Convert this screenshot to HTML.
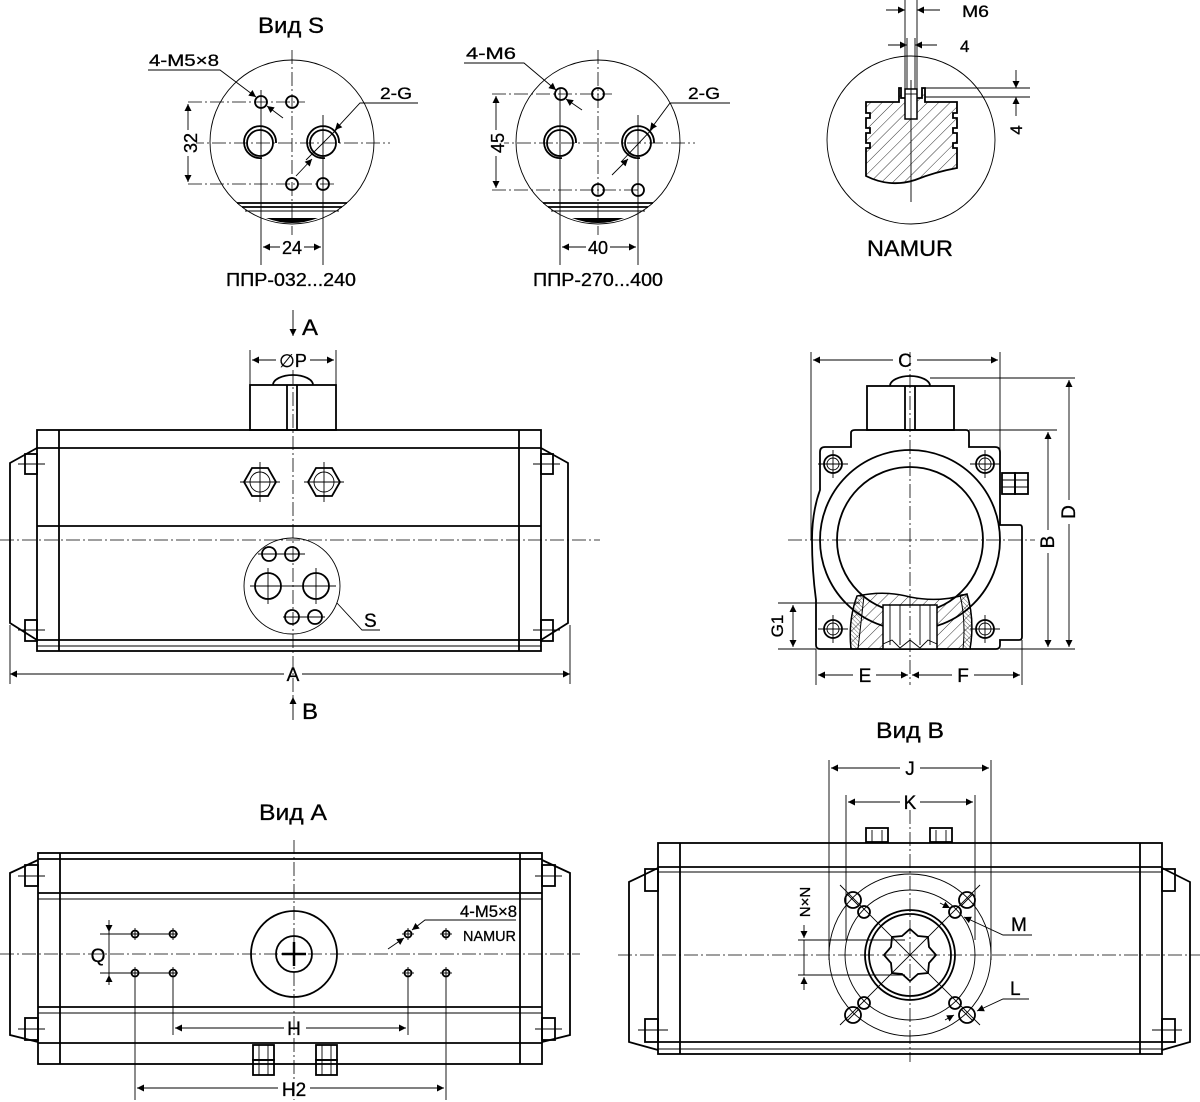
<!DOCTYPE html>
<html><head><meta charset="utf-8"><style>
html,body{margin:0;padding:0;background:#fff}
svg{display:block}
text{font-family:"Liberation Sans",sans-serif;fill:#000;stroke:#000;stroke-width:0.3}
.t{stroke:#000;stroke-width:1.8;fill:none}
.n{stroke:#000;stroke-width:0.9;fill:none}
.c{stroke:#000;stroke-width:0.8;fill:none;stroke-dasharray:14 3 2 3}
</style></head><body>
<svg width="1200" height="1102" viewBox="0 0 1200 1102" xmlns="http://www.w3.org/2000/svg">
<defs>
<marker id="a" viewBox="0 0 10 10" refX="10" refY="5" markerWidth="9" markerHeight="7" orient="auto-start-reverse" markerUnits="userSpaceOnUse"><path d="M0,0 L10,5 L0,10 z" fill="#000"/></marker>
<pattern id="hatch" width="8" height="8" patternUnits="userSpaceOnUse" patternTransform="rotate(45)"><line x1="0" y1="0" x2="0" y2="8" stroke="#000" stroke-width="0.8"/></pattern>
<pattern id="hatch2" width="3" height="3" patternUnits="userSpaceOnUse" patternTransform="rotate(-45)"><line x1="0" y1="0" x2="0" y2="3" stroke="#000" stroke-width="0.6"/></pattern>
</defs>

<!-- ===== Вид S circle 1 ===== -->
<text x="291" y="33" font-size="22" text-anchor="middle" textLength="66" lengthAdjust="spacingAndGlyphs">Вид S</text>
<circle cx="292" cy="142" r="82" class="n"/>
<line x1="292" y1="50" x2="292" y2="235" class="c"/>
<line x1="190" y1="143" x2="390" y2="143" class="c"/>
<line x1="188" y1="102" x2="305" y2="102" class="c"/>
<line x1="188" y1="184" x2="335" y2="184" class="c"/>
<line x1="261" y1="90" x2="261" y2="265" class="n"/>
<line x1="323" y1="115" x2="323" y2="265" class="n"/>
<circle cx="261" cy="102" r="6" class="t"/><circle cx="292" cy="102" r="6" class="t"/>
<circle cx="292" cy="184" r="6" class="t"/><circle cx="323" cy="184" r="6" class="t"/>
<circle cx="260" cy="143" r="13" class="t"/><path d="M276,143 A16,16 0 1 0 262,158" class="t"/>
<circle cx="323" cy="143" r="13" class="t"/><path d="M339,143 A16,16 0 1 0 325,158" class="t"/>
<line x1="306" y1="160" x2="340" y2="126" class="n"/>
<line x1="237" y1="203" x2="347" y2="203" class="t"/>
<line x1="242" y1="207" x2="342" y2="207" class="t"/>
<line x1="245" y1="211" x2="339" y2="211" class="n"/>
<path d="M266,218 Q292,228 318,218 Z" fill="#000"/>
<line x1="188" y1="104" x2="188" y2="182" class="n" marker-start="url(#a)" marker-end="url(#a)"/>
<rect x="182" y="130" width="14" height="26" fill="#fff"/>
<text x="0" y="0" font-size="18" text-anchor="middle" transform="translate(197,143) rotate(-90)">32</text>
<line x1="263" y1="247" x2="321" y2="247" class="n" marker-start="url(#a)" marker-end="url(#a)"/>
<rect x="280" y="238" width="24" height="18" fill="#fff"/>
<text x="292" y="254" font-size="18" text-anchor="middle">24</text>
<text x="291" y="286" font-size="18" text-anchor="middle" textLength="130" lengthAdjust="spacingAndGlyphs">ППР-032...240</text>
<polyline points="148,70 220,70 256,97" class="n" marker-end="url(#a)"/>
<text x="149" y="66" font-size="17" textLength="70" lengthAdjust="spacingAndGlyphs">4-M5×8</text>
<line x1="283" y1="118" x2="267" y2="106" class="n" marker-end="url(#a)"/>
<polyline points="418,103 360,103 335,130" class="n" marker-end="url(#a)"/>
<text x="380" y="99" font-size="17" textLength="32" lengthAdjust="spacingAndGlyphs">2-G</text>
<line x1="296" y1="176" x2="312" y2="159" class="n" marker-end="url(#a)"/>

<!-- ===== Вид S circle 2 ===== -->
<circle cx="598" cy="142" r="82" class="n"/>
<line x1="598" y1="50" x2="598" y2="235" class="c"/>
<line x1="495" y1="143" x2="695" y2="143" class="c"/>
<line x1="492" y1="94" x2="612" y2="94" class="c"/>
<line x1="492" y1="190" x2="640" y2="190" class="c"/>
<line x1="560" y1="88" x2="560" y2="265" class="n"/>
<line x1="638" y1="115" x2="638" y2="265" class="n"/>
<circle cx="561" cy="94" r="6" class="t"/><circle cx="598" cy="94" r="6" class="t"/>
<circle cx="598" cy="190" r="6" class="t"/><circle cx="638" cy="190" r="6" class="t"/>
<circle cx="560" cy="143" r="13" class="t"/><path d="M576,143 A16,16 0 1 0 562,158" class="t"/>
<circle cx="638" cy="143" r="13" class="t"/><path d="M654,143 A16,16 0 1 0 640,158" class="t"/>
<line x1="621" y1="162" x2="655" y2="126" class="n"/>
<line x1="543" y1="203" x2="653" y2="203" class="t"/>
<line x1="548" y1="207" x2="648" y2="207" class="t"/>
<line x1="551" y1="211" x2="645" y2="211" class="n"/>
<path d="M572,218 Q598,228 624,218 Z" fill="#000"/>
<line x1="496" y1="96" x2="496" y2="188" class="n" marker-start="url(#a)" marker-end="url(#a)"/>
<rect x="490" y="130" width="14" height="26" fill="#fff"/>
<text x="0" y="0" font-size="18" text-anchor="middle" transform="translate(504,143) rotate(-90)">45</text>
<line x1="562" y1="247" x2="636" y2="247" class="n" marker-start="url(#a)" marker-end="url(#a)"/>
<rect x="586" y="238" width="24" height="18" fill="#fff"/>
<text x="598" y="254" font-size="18" text-anchor="middle">40</text>
<text x="598" y="286" font-size="18" text-anchor="middle" textLength="130" lengthAdjust="spacingAndGlyphs">ППР-270...400</text>
<polyline points="464,63 524,63 556,90" class="n" marker-end="url(#a)"/>
<text x="466" y="59" font-size="17" textLength="50" lengthAdjust="spacingAndGlyphs">4-M6</text>
<line x1="582" y1="110" x2="566" y2="99" class="n" marker-end="url(#a)"/>
<polyline points="730,103 670,103 650,130" class="n" marker-end="url(#a)"/>
<text x="688" y="99" font-size="17" textLength="32" lengthAdjust="spacingAndGlyphs">2-G</text>
<line x1="612" y1="175" x2="628" y2="159" class="n" marker-end="url(#a)"/>

<!-- ===== NAMUR ===== -->
<circle cx="911" cy="140" r="84" class="n"/>
<path d="M899,88 L901,88 L901,98 L922,98 L922,88 L925,88 L925,102 L957,102 L957,113 L953,113 L953,118 L957,118 L957,128 L953,128 L953,133 L957,133 L957,143 L953,143 L953,148 L957,148 L957,168 Q935,172 915,180 Q890,188 866,176 L866,148 L870,148 L870,143 L866,143 L866,133 L870,133 L870,128 L866,128 L866,118 L870,118 L870,113 L866,113 L866,102 L899,102 Z" fill="url(#hatch)" stroke="#000" stroke-width="1.8"/>
<rect x="905" y="89" width="12" height="30" fill="#fff" stroke="#000" stroke-width="1.5"/>
<line x1="905" y1="94" x2="917" y2="94" class="n"/>
<line x1="905" y1="0" x2="905" y2="89" class="n"/><line x1="917" y1="0" x2="917" y2="89" class="n"/>
<line x1="907" y1="38" x2="907" y2="89" class="n"/><line x1="915" y1="38" x2="915" y2="89" class="n"/>
<line x1="911" y1="80" x2="911" y2="202" class="n"/>
<line x1="886" y1="10" x2="905" y2="10" class="n" marker-end="url(#a)"/>
<line x1="940" y1="10" x2="917" y2="10" class="n" marker-end="url(#a)"/>
<text x="962" y="17" font-size="17" textLength="27" lengthAdjust="spacingAndGlyphs">M6</text>
<line x1="888" y1="45" x2="907" y2="45" class="n" marker-end="url(#a)"/>
<line x1="937" y1="45" x2="915" y2="45" class="n" marker-end="url(#a)"/>
<text x="960" y="52" font-size="17">4</text>
<line x1="922" y1="88" x2="1030" y2="88" class="n"/>
<line x1="925" y1="97" x2="1030" y2="97" class="n"/>
<line x1="1016" y1="70" x2="1016" y2="88" class="n" marker-end="url(#a)"/>
<line x1="1016" y1="116" x2="1016" y2="97" class="n" marker-end="url(#a)"/>
<text x="0" y="0" font-size="17" text-anchor="middle" transform="translate(1022,130) rotate(-90)">4</text>
<text x="910" y="256" font-size="22" text-anchor="middle" textLength="86" lengthAdjust="spacingAndGlyphs">NAMUR</text>

<!-- ===== Front view ===== -->
<text x="302" y="335" font-size="22" textLength="16" lengthAdjust="spacingAndGlyphs">A</text>
<line x1="293" y1="310" x2="293" y2="336" class="n" marker-end="url(#a)"/>
<line x1="250" y1="350" x2="250" y2="385" class="n"/><line x1="336" y1="350" x2="336" y2="385" class="n"/>
<line x1="252" y1="360" x2="276" y2="360" class="n" marker-start="url(#a)"/>
<line x1="310" y1="360" x2="334" y2="360" class="n" marker-end="url(#a)"/>
<text x="293" y="367" font-size="18" text-anchor="middle">∅P</text>
<path d="M273,385 A20,10 0 0 1 313,385" class="t"/>
<rect x="250" y="385" width="86" height="45" class="t"/>
<line x1="287" y1="385" x2="287" y2="430" class="t"/><line x1="297" y1="385" x2="297" y2="430" class="t"/>
<rect x="37" y="430" width="504" height="221" class="t"/>
<line x1="59" y1="430" x2="59" y2="651" class="t"/><line x1="519" y1="430" x2="519" y2="651" class="t"/>
<line x1="37" y1="448" x2="541" y2="448" class="t"/>
<line x1="37" y1="526" x2="541" y2="526" class="t"/>
<line x1="37" y1="640" x2="541" y2="640" class="t"/>
<line x1="37" y1="646" x2="541" y2="646" class="n"/>
<polyline points="37,448 10,463 10,623 37,640" class="t"/>
<polyline points="541,448 568,463 568,623 541,640" class="t"/>
<rect x="25" y="454" width="12" height="20" class="t"/><rect x="25" y="620" width="12" height="21" class="t"/>
<rect x="541" y="454" width="12" height="20" class="t"/><rect x="541" y="620" width="12" height="21" class="t"/>
<line x1="18" y1="464" x2="45" y2="464" class="n"/><line x1="18" y1="630" x2="45" y2="630" class="n"/>
<line x1="533" y1="464" x2="560" y2="464" class="n"/><line x1="533" y1="630" x2="560" y2="630" class="n"/>
<polygon points="252,468 268,468 276,482 268,496 252,496 244,482" class="t"/>
<circle cx="260" cy="482" r="10" class="n"/>
<polygon points="316,468 332,468 340,482 332,496 316,496 308,482" class="t"/>
<circle cx="324" cy="482" r="10" class="n"/>
<line x1="240" y1="482" x2="280" y2="482" class="n"/><line x1="260" y1="462" x2="260" y2="502" class="n"/>
<line x1="304" y1="482" x2="344" y2="482" class="n"/><line x1="324" y1="462" x2="324" y2="502" class="n"/>
<line x1="0" y1="540" x2="600" y2="540" class="c"/>
<line x1="293" y1="370" x2="293" y2="700" class="c"/>
<circle cx="292" cy="586" r="48" class="n"/>
<circle cx="269" cy="554" r="7" class="t"/><circle cx="292" cy="554" r="7" class="t"/>
<circle cx="268" cy="586" r="13" class="t"/><circle cx="316" cy="586" r="13" class="t"/>
<circle cx="292" cy="617" r="7" class="t"/><circle cx="315" cy="617" r="7" class="t"/>
<line x1="258" y1="554" x2="305" y2="554" class="n"/><line x1="250" y1="586" x2="336" y2="586" class="n"/>
<line x1="283" y1="617" x2="325" y2="617" class="n"/>
<line x1="268" y1="568" x2="268" y2="604" class="n"/><line x1="316" y1="568" x2="316" y2="604" class="n"/>
<polyline points="337,603 362,630 380,630" class="n"/>
<text x="364" y="627" font-size="19">S</text>
<line x1="10" y1="625" x2="10" y2="684" class="n"/><line x1="570" y1="625" x2="570" y2="684" class="n"/>
<line x1="10" y1="674" x2="284" y2="674" class="n" marker-start="url(#a)"/>
<line x1="302" y1="674" x2="570" y2="674" class="n" marker-end="url(#a)"/>
<text x="293" y="681" font-size="19" text-anchor="middle">A</text>
<line x1="293" y1="720" x2="293" y2="697" class="n" marker-end="url(#a)"/>
<text x="302" y="719" font-size="22" textLength="16" lengthAdjust="spacingAndGlyphs">B</text>

<!-- ===== Side view ===== -->
<line x1="811" y1="352" x2="811" y2="540" class="n"/>
<line x1="1000" y1="352" x2="1000" y2="480" class="n"/>
<line x1="813" y1="360" x2="893" y2="360" class="n" marker-start="url(#a)"/>
<line x1="917" y1="360" x2="998" y2="360" class="n" marker-end="url(#a)"/>
<text x="905" y="367" font-size="19" text-anchor="middle">C</text>
<path d="M890,386 A20,10 0 0 1 930,386" class="t"/>
<rect x="867" y="386" width="87" height="44" class="t"/>
<line x1="905" y1="386" x2="905" y2="430" class="t"/><line x1="915" y1="386" x2="915" y2="430" class="t"/>
<path d="M851,447 L851,433 Q851,430 855,430 L966,430 Q969,430 969,433 L969,447 L995,447 Q1000,447 1000,452 L1000,525 L1020,525 Q1022,525 1022,528 L1022,637 Q1022,640 1019,640 L1000,640 L1000,645 Q1000,649 996,649 L820,649 Q816,649 816,645 L816,600 Q812,570 812,540 Q812,512 820,490 L820,452 Q820,447 825,447 Z" class="t"/>
<circle cx="910" cy="540" r="90" class="t"/>
<circle cx="910" cy="540" r="73" class="t"/>
<g>
<circle cx="833" cy="464" r="9" class="t"/><circle cx="833" cy="464" r="6" class="n"/>
<circle cx="985" cy="464" r="9" class="t"/><circle cx="985" cy="464" r="6" class="n"/>
<circle cx="833" cy="629" r="9" class="t"/><circle cx="833" cy="629" r="6" class="n"/>
<circle cx="985" cy="629" r="9" class="t"/><circle cx="985" cy="629" r="6" class="n"/>
<line x1="818" y1="464" x2="848" y2="464" class="n"/><line x1="833" y1="450" x2="833" y2="478" class="n"/>
<line x1="970" y1="464" x2="1000" y2="464" class="n"/><line x1="985" y1="450" x2="985" y2="478" class="n"/>
<line x1="818" y1="629" x2="848" y2="629" class="n"/><line x1="833" y1="615" x2="833" y2="643" class="n"/>
<line x1="970" y1="629" x2="1000" y2="629" class="n"/><line x1="985" y1="615" x2="985" y2="643" class="n"/>
</g>
<rect x="1002" y="473" width="13" height="21" class="t"/><rect x="1015" y="473" width="13" height="21" class="t"/>
<line x1="1002" y1="480" x2="1028" y2="480" class="n"/><line x1="1002" y1="487" x2="1028" y2="487" class="n"/>
<path d="M857,596 Q885,590 910,597 Q940,603 967,594 Q975,620 970,649 L851,649 Q848,620 857,596 Z" fill="url(#hatch)" stroke="#000" stroke-width="1.5"/>
<path d="M857,596 L864,596 L858,649 L851,649 Q848,620 857,596 Z" fill="url(#hatch2)" stroke="#000" stroke-width="1"/>
<path d="M960,595 L967,594 Q975,620 970,649 L963,649 Q966,620 960,595 Z" fill="url(#hatch2)" stroke="#000" stroke-width="1"/>
<rect x="883" y="605" width="54" height="44" fill="#fff" stroke="#000" stroke-width="1.5"/>
<line x1="890" y1="605" x2="890" y2="645" class="n"/><line x1="900" y1="605" x2="900" y2="645" class="n"/>
<line x1="920" y1="605" x2="920" y2="645" class="n"/><line x1="930" y1="605" x2="930" y2="645" class="n"/>
<polyline points="883,644 892,640 900,648 910,640 920,648 928,640 937,644" class="n"/>
<line x1="788" y1="540" x2="1035" y2="540" class="c"/>
<line x1="910" y1="352" x2="910" y2="685" class="c"/>
<line x1="969" y1="430" x2="1057" y2="430" class="n"/>
<line x1="930" y1="378" x2="1075" y2="378" class="n"/>
<line x1="1000" y1="649" x2="1075" y2="649" class="n"/>
<line x1="1048" y1="432" x2="1048" y2="530" class="n" marker-start="url(#a)"/>
<line x1="1048" y1="553" x2="1048" y2="647" class="n" marker-end="url(#a)"/>
<text x="0" y="0" font-size="19" text-anchor="middle" transform="translate(1054,542) rotate(-90)">B</text>
<line x1="1069" y1="380" x2="1069" y2="500" class="n" marker-start="url(#a)"/>
<line x1="1069" y1="524" x2="1069" y2="647" class="n" marker-end="url(#a)"/>
<text x="0" y="0" font-size="19" text-anchor="middle" transform="translate(1075,512) rotate(-90)">D</text>
<line x1="778" y1="603" x2="860" y2="603" class="n"/>
<line x1="778" y1="649" x2="816" y2="649" class="n"/>
<line x1="793" y1="605" x2="793" y2="647" class="n" marker-start="url(#a)" marker-end="url(#a)"/>
<text x="0" y="0" font-size="17" text-anchor="middle" transform="translate(783,626) rotate(-90)">G1</text>
<line x1="816" y1="649" x2="816" y2="685" class="n"/><line x1="1022" y1="640" x2="1022" y2="685" class="n"/>
<line x1="818" y1="675" x2="853" y2="675" class="n" marker-start="url(#a)"/>
<line x1="876" y1="675" x2="908" y2="675" class="n" marker-end="url(#a)"/>
<text x="865" y="682" font-size="19" text-anchor="middle">E</text>
<line x1="912" y1="675" x2="952" y2="675" class="n" marker-start="url(#a)"/>
<line x1="974" y1="675" x2="1020" y2="675" class="n" marker-end="url(#a)"/>
<text x="963" y="682" font-size="19" text-anchor="middle">F</text>

<!-- ===== Вид A ===== -->
<text x="293" y="820" font-size="22" text-anchor="middle" textLength="68" lengthAdjust="spacingAndGlyphs">Вид A</text>
<rect x="38" y="853" width="504" height="211" class="t"/>
<line x1="60" y1="853" x2="60" y2="1064" class="t"/><line x1="520" y1="853" x2="520" y2="1064" class="t"/>
<line x1="38" y1="859" x2="542" y2="859" class="t"/>
<line x1="38" y1="893" x2="542" y2="893" class="t"/>
<line x1="38" y1="899" x2="542" y2="899" class="n"/>
<line x1="38" y1="1007" x2="542" y2="1007" class="t"/>
<line x1="38" y1="1013" x2="542" y2="1013" class="n"/>
<line x1="38" y1="1043" x2="542" y2="1043" class="t"/>
<polyline points="38,860 10,873 10,1035 38,1042" class="t"/>
<polyline points="542,860 570,873 570,1035 542,1042" class="t"/>
<rect x="25" y="865" width="13" height="21" class="t"/><rect x="25" y="1018" width="13" height="22" class="t"/>
<rect x="542" y="865" width="13" height="21" class="t"/><rect x="542" y="1018" width="13" height="22" class="t"/>
<line x1="18" y1="876" x2="45" y2="876" class="n"/><line x1="18" y1="1029" x2="45" y2="1029" class="n"/>
<line x1="535" y1="876" x2="562" y2="876" class="n"/><line x1="535" y1="1029" x2="562" y2="1029" class="n"/>
<line x1="0" y1="954" x2="580" y2="954" class="c"/>
<line x1="294" y1="840" x2="294" y2="1100" class="c"/>
<circle cx="294" cy="954" r="43" class="t"/>
<circle cx="294" cy="954" r="18" class="t"/>
<line x1="282" y1="954" x2="306" y2="954" stroke="#000" stroke-width="2.5"/>
<line x1="294" y1="942" x2="294" y2="966" stroke="#000" stroke-width="2.5"/>
<g>
<circle cx="135" cy="934" r="3.5" class="t"/><circle cx="173" cy="934" r="3.5" class="t"/>
<circle cx="135" cy="973" r="3.5" class="t"/><circle cx="173" cy="973" r="3.5" class="t"/>
<circle cx="408" cy="934" r="3.5" class="t"/><circle cx="446" cy="934" r="3.5" class="t"/>
<circle cx="408" cy="973" r="3.5" class="t"/><circle cx="446" cy="973" r="3.5" class="t"/>
<line x1="100" y1="934" x2="178" y2="934" class="n"/><line x1="100" y1="973" x2="178" y2="973" class="n"/>
<line x1="402" y1="934" x2="414" y2="934" class="n"/><line x1="440" y1="934" x2="452" y2="934" class="n"/>
<line x1="402" y1="973" x2="414" y2="973" class="n"/><line x1="440" y1="973" x2="452" y2="973" class="n"/>
<line x1="135" y1="928" x2="135" y2="940" class="n"/><line x1="173" y1="928" x2="173" y2="940" class="n"/>
<line x1="408" y1="928" x2="408" y2="940" class="n"/><line x1="446" y1="928" x2="446" y2="940" class="n"/>
<line x1="135" y1="967" x2="135" y2="1100" class="n"/><line x1="173" y1="967" x2="173" y2="1035" class="n"/>
<line x1="408" y1="967" x2="408" y2="1035" class="n"/><line x1="446" y1="967" x2="446" y2="1100" class="n"/>
</g>
<line x1="109" y1="920" x2="109" y2="932" class="n" marker-end="url(#a)"/>
<line x1="109" y1="985" x2="109" y2="975" class="n" marker-end="url(#a)"/>
<line x1="109" y1="932" x2="109" y2="975" class="n"/>
<text x="98" y="962" font-size="19" text-anchor="middle">Q</text>
<line x1="175" y1="1028" x2="284" y2="1028" class="n" marker-start="url(#a)"/>
<line x1="306" y1="1028" x2="406" y2="1028" class="n" marker-end="url(#a)"/>
<text x="294" y="1035" font-size="19" text-anchor="middle">H</text>
<line x1="137" y1="1088" x2="278" y2="1088" class="n" marker-start="url(#a)"/>
<line x1="310" y1="1088" x2="444" y2="1088" class="n" marker-end="url(#a)"/>
<text x="294" y="1096" font-size="19" text-anchor="middle">H2</text>
<rect x="253" y="1045" width="21" height="15" class="t"/><rect x="253" y="1060" width="21" height="15" class="t"/>
<line x1="259" y1="1045" x2="259" y2="1075" class="n"/><line x1="268" y1="1045" x2="268" y2="1075" class="n"/>
<rect x="316" y="1045" width="21" height="15" class="t"/><rect x="316" y="1060" width="21" height="15" class="t"/>
<line x1="322" y1="1045" x2="322" y2="1075" class="n"/><line x1="331" y1="1045" x2="331" y2="1075" class="n"/>
<polyline points="516,920 425,920 412,930" class="n" marker-end="url(#a)"/>
<line x1="388" y1="949" x2="404" y2="938" class="n" marker-end="url(#a)"/>
<text x="460" y="917" font-size="17" textLength="57" lengthAdjust="spacingAndGlyphs">4-M5×8</text>
<text x="463" y="941" font-size="15" textLength="53" lengthAdjust="spacingAndGlyphs">NAMUR</text>

<!-- ===== Вид B ===== -->
<text x="910" y="738" font-size="22" text-anchor="middle" textLength="68" lengthAdjust="spacingAndGlyphs">Вид B</text>
<line x1="829" y1="760" x2="829" y2="960" class="n"/><line x1="991" y1="760" x2="991" y2="960" class="n"/>
<line x1="846" y1="795" x2="846" y2="940" class="n"/><line x1="975" y1="795" x2="975" y2="940" class="n"/>
<line x1="831" y1="768" x2="900" y2="768" class="n" marker-start="url(#a)"/>
<line x1="920" y1="768" x2="989" y2="768" class="n" marker-end="url(#a)"/>
<text x="910" y="775" font-size="19" text-anchor="middle">J</text>
<line x1="848" y1="802" x2="900" y2="802" class="n" marker-start="url(#a)"/>
<line x1="920" y1="802" x2="973" y2="802" class="n" marker-end="url(#a)"/>
<text x="910" y="809" font-size="19" text-anchor="middle">K</text>
<rect x="866" y="828" width="22" height="14" class="t"/>
<line x1="872" y1="830" x2="872" y2="842" class="n"/><line x1="882" y1="830" x2="882" y2="842" class="n"/>
<rect x="930" y="828" width="22" height="14" class="t"/>
<line x1="936" y1="830" x2="936" y2="842" class="n"/><line x1="946" y1="830" x2="946" y2="842" class="n"/>
<rect x="658" y="843" width="504" height="211" class="t"/>
<line x1="680" y1="843" x2="680" y2="1054" class="t"/><line x1="1140" y1="843" x2="1140" y2="1054" class="t"/>
<line x1="658" y1="867" x2="1162" y2="867" class="t"/>
<line x1="658" y1="872" x2="1162" y2="872" class="n"/>
<line x1="658" y1="1042" x2="1162" y2="1042" class="t"/>
<line x1="658" y1="1049" x2="1162" y2="1049" class="n"/>
<polyline points="658,868 629,882 629,1042 658,1050" class="t"/>
<polyline points="1162,868 1190,882 1190,1042 1162,1050" class="t"/>
<rect x="645" y="869" width="13" height="22" class="t"/><rect x="645" y="1019" width="13" height="23" class="t"/>
<rect x="1162" y="869" width="13" height="22" class="t"/><rect x="1162" y="1019" width="13" height="23" class="t"/>
<line x1="638" y1="1030" x2="668" y2="1030" class="n"/><line x1="1152" y1="1030" x2="1182" y2="1030" class="n"/>
<line x1="618" y1="955" x2="1200" y2="955" class="c"/>
<line x1="910" y1="810" x2="910" y2="1062" class="c"/>
<circle cx="910" cy="955" r="81" class="n"/>
<circle cx="910" cy="955" r="65" class="n"/>
<circle cx="910" cy="955" r="45" class="t"/>
<circle cx="910" cy="955" r="41" class="t"/>
<polygon points="910,929 918,936 928,937 929,947 936,955 929,963 928,973 918,974 910,981 902,974 892,973 891,963 884,955 891,947 892,937 902,936" class="t"/>
<line x1="840" y1="885" x2="980" y2="1025" class="n"/><line x1="980" y1="885" x2="840" y2="1025" class="n"/>
<circle cx="853" cy="900" r="8" class="t" fill="#fff"/><circle cx="967" cy="900" r="8" class="t" fill="#fff"/>
<circle cx="853" cy="1015" r="8" class="t" fill="#fff"/><circle cx="967" cy="1015" r="8" class="t" fill="#fff"/>
<circle cx="864" cy="912" r="6" class="t" fill="#fff"/><circle cx="955" cy="912" r="6" class="t" fill="#fff"/>
<circle cx="864" cy="1003" r="6" class="t" fill="#fff"/><circle cx="955" cy="1003" r="6" class="t" fill="#fff"/>
<line x1="847" y1="894" x2="859" y2="906" class="n"/><line x1="961" y1="906" x2="973" y2="894" class="n"/>
<line x1="847" y1="1021" x2="859" y2="1009" class="n"/><line x1="961" y1="1009" x2="973" y2="1021" class="n"/>
<line x1="798" y1="940" x2="905" y2="940" class="n"/><line x1="798" y1="975" x2="905" y2="975" class="n"/>
<line x1="804" y1="925" x2="804" y2="938" class="n" marker-end="url(#a)"/>
<line x1="804" y1="990" x2="804" y2="977" class="n" marker-end="url(#a)"/>
<line x1="804" y1="940" x2="804" y2="975" class="n"/>
<text x="0" y="0" font-size="15" text-anchor="middle" transform="translate(810,902) rotate(-90)">N×N</text>
<polyline points="1032,935 1003,935 964,917" class="n" marker-end="url(#a)"/>
<text x="1011" y="931" font-size="19">M</text>
<line x1="940" y1="903" x2="950" y2="908" class="n" marker-end="url(#a)"/>
<polyline points="1029,999 1003,999 977,1011" class="n" marker-end="url(#a)"/>
<text x="1010" y="995" font-size="19">L</text>
<line x1="945" y1="1020" x2="954" y2="1015" class="n" marker-end="url(#a)"/>
</svg>
</body></html>
